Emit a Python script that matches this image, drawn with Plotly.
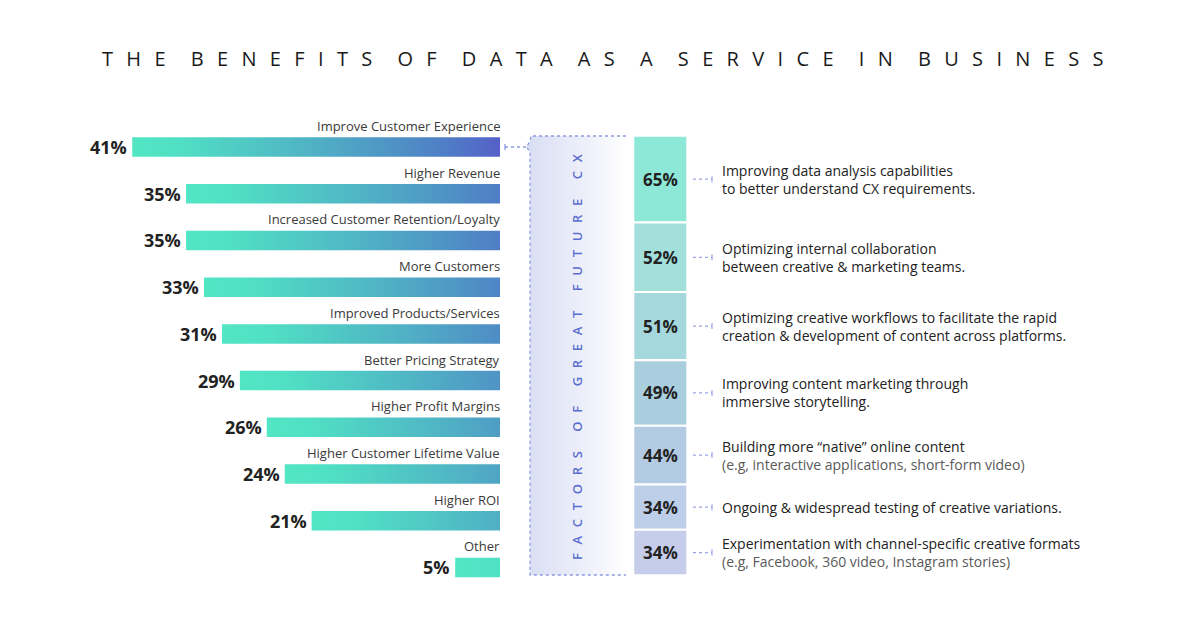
import plotly.graph_objects as go

# ---------------- data ----------------
title_text = "THE BENEFITS OF DATA AS A SERVICE IN BUSINESS"
benefit_labels = [
    "Improve Customer Experience",
    "Higher Revenue",
    "Increased Customer Retention/Loyalty",
    "More Customers",
    "Improved Products/Services",
    "Better Pricing Strategy",
    "Higher Profit Margins",
    "Higher Customer Lifetime Value",
    "Higher ROI",
    "Other",
]
benefit_values = [41, 35, 35, 33, 31, 29, 26, 24, 21, 5]

panel_label = "FACTORS OF GREAT FUTURE CX"
factor_values = [65, 52, 51, 49, 44, 34, 34]
factor_line1 = [
    "Improving data analysis capabilities",
    "Optimizing internal collaboration",
    "Optimizing creative workflows to facilitate the rapid",
    "Improving content marketing through",
    "Building more \u201cnative\u201d online content",
    "Ongoing & widespread testing of creative variations.",
    "Experimentation with channel-specific creative formats",
]
factor_line2 = [
    "to better understand CX requirements.",
    "between creative & marketing teams.",
    "creation & development of content across platforms.",
    "immersive storytelling.",
    "(e.g, interactive applications, short-form video)",
    "",
    "(e.g, Facebook, 360 video, Instagram stories)",
]
factor_line2_muted = [False, False, False, False, True, False, True]
factor_colors = ["#8de8d7", "#a3e0dc", "#a4d8dd", "#a9cfdf", "#b2cbe3", "#bccee8", "#c5cdea"]

# ---------------- layout geometry (pixels) ----------------
W, H = 1200, 617
X_ZERO = 500.0          # right edge of the left bars
PX_PER_PCT = 8.97
ROW0, ROW_STEP = 147.0, 46.72
BAR_H = 19.5 / ROW_STEP / 2
COL_TOP, COL_BOTTOM = 135.7, 575.3
COL_X, COL_W = 660.3, 54.0
col_scale = (COL_BOTTOM - COL_TOP) / sum(factor_values)
GRAD_SPAN = max(benefit_values)

FONT = "Open Sans, Lato, sans-serif"
bar_scale = [
    [0.0, "#52e6c4"], [0.12, "#50e0c4"], [0.45, "#50b7c5"],
    [0.7, "#4f94c5"], [0.85, "#4f7ec6"], [1.0, "#5560c8"],
]

fig = go.Figure()

# ---------------- left gradient bars ----------------
annotations = []
for i, (lab, v) in enumerate(zip(benefit_labels, benefit_values)):
    fig.add_trace(go.Scatter(
        x=[0, v, v, 0, 0],
        y=[i - BAR_H, i - BAR_H, i + BAR_H, i + BAR_H, i - BAR_H],
        mode="lines", line=dict(width=0), fill="toself",
        fillgradient=dict(type="horizontal", colorscale=bar_scale,
                          start=v, stop=v - GRAD_SPAN),
        hoverinfo="skip", xaxis="x", yaxis="y",
    ))
    annotations.append(dict(
        x=v, y=i, xref="x", yref="y", text=f"{v}%", showarrow=False,
        xanchor="right", yanchor="middle", xshift=-3,
        font=dict(family=FONT, size=18, color="#222222", weight="bold"),
    ))
    annotations.append(dict(
        x=0, y=i, xref="x", yref="y", text=lab, showarrow=False,
        xanchor="right", yanchor="middle", yshift=21, xshift=2,
        font=dict(family=FONT, size=13, color="#3a3a3a"),
    ))

# ---------------- bracket panel ----------------
br_x = [626, 531, 530, 526.5, 530, 530, 626]
br_y = [136, 136, 141, ROW0, 152, 575, 575]
fig.add_trace(go.Scatter(
    x=br_x + [626], y=br_y + [136], mode="lines", line=dict(width=0),
    fill="toself",
    fillgradient=dict(type="horizontal",
                      colorscale=[[0, "#d9def4"], [0.6, "#eef0fa"], [1, "#ffffff"]],
                      start=527, stop=626),
    hoverinfo="skip", xaxis="x2", yaxis="y3",
))
fig.add_trace(go.Scatter(
    x=br_x, y=br_y, mode="lines",
    line=dict(color="#8c9be0", width=1.3, dash="dot"),
    hoverinfo="skip", xaxis="x2", yaxis="y3",
))
# connector from first bar to bracket
fig.add_trace(go.Scatter(
    x=[505, 526], y=[ROW0, ROW0], mode="lines",
    line=dict(color="#8c9be0", width=1.3, dash="dot"),
    hoverinfo="skip", xaxis="x2", yaxis="y3",
))
fig.add_trace(go.Scatter(
    x=[505, 505], y=[ROW0 - 3, ROW0 + 3], mode="lines",
    line=dict(color="#8c9be0", width=1.3),
    hoverinfo="skip", xaxis="x2", yaxis="y3",
))

# ---------------- stacked column ----------------
bases = []
acc = 0
for v in factor_values:
    bases.append(acc)
    acc += v
fig.add_trace(go.Bar(
    x=[COL_X] * len(factor_values), y=factor_values, base=bases,
    width=COL_W, marker=dict(color=factor_colors, line=dict(color="white", width=2)),
    hoverinfo="skip", xaxis="x2", yaxis="y2",
))
tick_h = 3 / col_scale
for b, v, l1, l2, muted in zip(bases, factor_values, factor_line1, factor_line2, factor_line2_muted):
    c = b + v / 2
    annotations.append(dict(
        x=COL_X, y=c, xref="x2", yref="y2", text=f"{v}%", showarrow=False,
        xanchor="center", yanchor="middle",
        font=dict(family=FONT, size=17, color="#222222", weight="bold"),
    ))
    fig.add_trace(go.Scatter(
        x=[693, 712], y=[c, c], mode="lines",
        line=dict(color="#9aa6e6", width=1.2, dash="dot"),
        hoverinfo="skip", xaxis="x2", yaxis="y2",
    ))
    fig.add_trace(go.Scatter(
        x=[712, 712], y=[c - tick_h, c + tick_h], mode="lines",
        line=dict(color="#9aa6e6", width=1.2),
        hoverinfo="skip", xaxis="x2", yaxis="y2",
    ))
    if l2:
        if muted:
            txt = f"{l1}<br><span style='color:#5a5a5a'>{l2}</span>"
        else:
            txt = f"{l1}<br>{l2}"
    else:
        txt = l1
    annotations.append(dict(
        x=722, y=c, xref="x2", yref="y2", text=txt, showarrow=False,
        xanchor="left", yanchor="middle", align="left", xshift=-2,
        font=dict(family=FONT, size=14, color="#222222"),
    ))

# ---------------- texts ----------------
def spaced(s, letter_sep, word_sep):
    return word_sep.join(letter_sep.join(list(w)) for w in s.split(" "))

annotations.append(dict(
    x=577, y=357, xref="x2", yref="y3",
    text=spaced(panel_label, "\u2002\u2006", "\u2002\u2002\u2002"), showarrow=False,
    textangle=-90, xanchor="center", yanchor="middle",
    font=dict(family=FONT, size=13, color="#5a6ecf", weight=600),
))
annotations.append(dict(
    x=602, y=58, xref="x2", yref="y3",
    text=spaced(title_text, "\u2002\u2006", "\u2002\u00a0\u2002"), showarrow=False,
    xanchor="center", yanchor="middle",
    font=dict(family=FONT, size=20, color="#1a1a1a", weight=500),
))

fig.update_layout(
    width=W, height=H, margin=dict(l=0, r=0, t=0, b=0),
    paper_bgcolor="white", plot_bgcolor="rgba(0,0,0,0)",
    showlegend=False, barmode="overlay",
    xaxis=dict(domain=[0, 1], range=[X_ZERO / PX_PER_PCT, -(W - X_ZERO) / PX_PER_PCT],
               visible=False, fixedrange=True),
    yaxis=dict(domain=[0, 1], range=[(H - ROW0) / ROW_STEP, -ROW0 / ROW_STEP],
               visible=False, fixedrange=True),
    xaxis2=dict(domain=[0, 1], range=[0, W], overlaying="x", visible=False, fixedrange=True),
    yaxis2=dict(domain=[0, 1], range=[(H - COL_TOP) / col_scale, -COL_TOP / col_scale],
                overlaying="y", visible=False, fixedrange=True),
    yaxis3=dict(domain=[0, 1], range=[H, 0], overlaying="y", visible=False, fixedrange=True),
    annotations=annotations,
)

fig.write_html("out.html", config={"displayModeBar": False},
               post_script="document.body.style.margin='0';")
